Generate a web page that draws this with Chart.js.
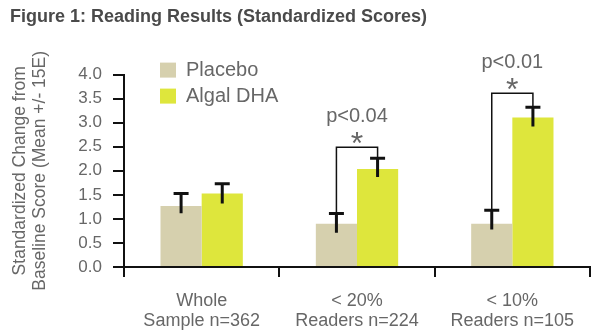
<!DOCTYPE html>
<html>
<head>
<meta charset="utf-8">
<script src="https://cdn.jsdelivr.net/npm/chart.js@4.4.1/dist/chart.umd.min.js"></script>
<style>
  html, body { margin: 0; padding: 0; background: #fff; }
  #wrap { width: 600px; height: 334px; }
</style>
</head>
<body>
<div id="wrap"><canvas id="chartCanvas"></canvas></div>
<script>
// Chart values
const categories = [['Whole', 'Sample n=362'], ['< 20%', 'Readers n=224'], ['< 10%', 'Readers n=105']];
const placebo = [1.27, 0.90, 0.90];
const algalDha = [1.53, 2.04, 3.11];
const placeboErrUp = [0.26, 0.21, 0.28];
const placeboErrDown = [0.15, 0.19, 0.12];
const dhaErrUp = [0.20, 0.22, 0.21];
const dhaErrDown = [0.21, 0.17, 0.19];
const pLabels = [null, 'p<0.04', 'p<0.01'];
const bracketTops = [null, 2.49, 3.61];

const gray = '#676767';
const font = 'Liberation Sans, Arial, Helvetica, sans-serif';

// Error bars, significance brackets and legend
const annotations = {
    id: 'annotations',
    afterDatasetsDraw(chart) {
        const ctx = chart.ctx;
        const y = chart.scales.y;
        const caps = [];
        ctx.save();
        ctx.strokeStyle = '#111';
        ctx.lineWidth = 3;
        chart.data.datasets.forEach((ds, di) => {
            const meta = chart.getDatasetMeta(di);
            caps[di] = [];
            meta.data.forEach((bar, i) => {
                const top = y.getPixelForValue(ds.data[i] + ds.errUp[i]);
                const bottom = y.getPixelForValue(ds.data[i] - ds.errDown[i]);
                caps[di][i] = { x: bar.x, y: top };
                ctx.beginPath();
                ctx.moveTo(bar.x, top);
                ctx.lineTo(bar.x, bottom);
                ctx.moveTo(bar.x - 7.5, top);
                ctx.lineTo(bar.x + 7.5, top);
                ctx.stroke();
            });
        });

        // brackets
        ctx.lineWidth = 1.5;
        ctx.textAlign = 'center';
        ctx.fillStyle = gray;
        pLabels.forEach((label, i) => {
            if (!label) return;
            const l = caps[0][i], r = caps[1][i];
            const yt = y.getPixelForValue(bracketTops[i]);
            ctx.beginPath();
            ctx.moveTo(l.x, l.y);
            ctx.lineTo(l.x, yt);
            ctx.lineTo(r.x, yt);
            ctx.lineTo(r.x, r.y);
            ctx.stroke();
            const mid = (l.x + r.x) / 2;
            ctx.textBaseline = 'middle';
            ctx.font = `32px ${font}`;
            ctx.fillText('*', mid, yt - 2);
            ctx.font = `20px ${font}`;
            ctx.fillText(label, mid, yt - 31);
        });

        // legend
        const lx = chart.chartArea.left + 36;
        const ly = chart.chartArea.top - 12;
        ctx.textAlign = 'left';
        ctx.textBaseline = 'middle';
        ctx.font = `20px ${font}`;
        chart.data.datasets.forEach((ds, di) => {
            const by = ly + di * 26;
            ctx.fillStyle = ds.backgroundColor;
            ctx.fillRect(lx, by, 16, 15);
            ctx.fillStyle = gray;
            ctx.fillText(ds.label, lx + 26, by + 8);
        });
        ctx.restore();
    }
};

const config = {
    type: 'bar',
    data: {
        labels: categories,
        datasets: [{
            label: 'Placebo',
            data: placebo,
            errUp: placeboErrUp,
            errDown: placeboErrDown,
            backgroundColor: '#d6d0ae'
        }, {
            label: 'Algal DHA',
            data: algalDha,
            errUp: dhaErrUp,
            errDown: dhaErrDown,
            backgroundColor: '#dee63c'
        }]
    },
    options: {
        responsive: true,
        maintainAspectRatio: false,
        animation: false,
        categoryPercentage: 0.53,
        barPercentage: 1.0,
        layout: {
            padding: { left: 10, right: 10, bottom: 0 }
        },
        plugins: {
            legend: { display: false },
            tooltip: { enabled: false },
            title: {
                display: true,
                text: 'Figure 1: Reading Results (Standardized Scores)',
                align: 'start',
                color: '#4a4a4a',
                font: { family: font, size: 18, weight: 'bold' },
                padding: { top: 6, bottom: 47 }
            }
        },
        scales: {
            x: {
                afterFit(scale) { scale.height = 67; },
                grid: {
                    offset: true,
                    drawOnChartArea: false,
                    drawTicks: true,
                    tickLength: 10,
                    color: '#111',
                    lineWidth: 2
                },
                border: { display: true, color: '#111', width: 2 },
                ticks: {
                    color: gray,
                    padding: 14,
                    font: { family: font, size: 18, lineHeight: 1.1 }
                }
            },
            y: {
                min: 0,
                max: 4,
                afterFit(scale) { scale.width = 114; },
                ticks: {
                    stepSize: 0.5,
                    autoSkip: false,
                    color: gray,
                    padding: 11,
                    font: { family: font, size: 17 },
                    callback: v => v.toFixed(1)
                },
                grid: {
                    drawOnChartArea: false,
                    drawTicks: true,
                    tickLength: 11,
                    color: '#111',
                    lineWidth: 2
                },
                border: { display: true, color: '#111', width: 2 },
                title: {
                    display: true,
                    text: ['Standardized Change from', 'Baseline Score (Mean +/- 15E)'],
                    color: gray,
                    font: { family: font, size: 17.5, lineHeight: 1.15 },
                    padding: { top: 0, bottom: 0 }
                }
            }
        }
    },
    plugins: [annotations]
};

const ctx = document.getElementById('chartCanvas').getContext('2d');
const chart = new Chart(ctx, config);
</script>
</body>
</html>
